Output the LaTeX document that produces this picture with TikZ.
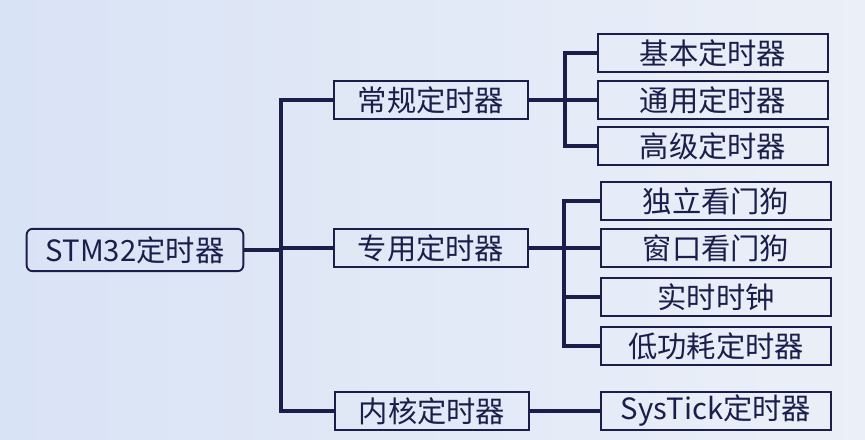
\documentclass[tikz,border=0pt]{standalone}
\usepackage{fontspec}
\setmainfont{Noto Sans CJK SC}
\usetikzlibrary{positioning}
\definecolor{ink}{HTML}{1B1E4B}
\definecolor{bgleft}{HTML}{D9E3F6}
\definecolor{bgright}{HTML}{EBEFF7}
\tikzset{
  rootbox/.style={draw=ink, line width=1.6pt, rounded corners=5pt,
                  minimum width=6.5cm, minimum height=1.27cm,
                  inner sep=2pt, font=\fontsize{25}{30}\selectfont, text=ink},
  midbox/.style={draw=ink, line width=1.6pt,
                 minimum width=5.8cm, minimum height=1.12cm,
                 inner sep=2pt, font=\fontsize{25}{30}\selectfont, text=ink},
  leafbox/.style={draw=ink, line width=1.6pt,
                  minimum width=6.9cm, minimum height=1.12cm,
                  inner sep=2pt, font=\fontsize{25}{30}\selectfont, text=ink},
  treeline/.style={draw=ink, line width=2.9pt, line join=miter}
}
\begin{document}
\begin{tikzpicture}[x=0.03cm,y=-0.03cm]
  % background
  \shade[left color=bgleft, right color=bgright] (0,0) rectangle (865,439);
  \useasboundingbox (0,0) rectangle (865,439);

  \node[rootbox] (stm) at (135,250) {STM32定时器};

  \node[midbox] (regular) at (431,100) {常规定时器};
  \node[midbox] (special) at (431,248) {专用定时器};
  \node[midbox] (core) at (432,411) {内核定时器};

  \node[leafbox] (basic) at (713,53) {基本定时器};
  \node[leafbox] (general) at (713,100) {通用定时器};
  \node[leafbox] (advanced) at (713,146) {高级定时器};

  \node[leafbox] (iwdg) at (716,201) {独立看门狗};
  \node[leafbox] (wwdg) at (716,248) {窗口看门狗};
  \node[leafbox] (rtc) at (716,297) {实时时钟};
  \node[leafbox] (lptim) at (716,346) {低功耗定时器};

  \node[leafbox] (systick) at (716,411) {SysTick定时器};

  % trunk
  \coordinate (trunk) at (281,250);
  \draw[treeline] (stm.east) -- (trunk);
  \draw[treeline] (regular.west) -| (trunk);
  \draw[treeline] (core.west) -| (trunk);
  \draw[treeline] (special.west) -- (special.west -| trunk);

  % branches
  \coordinate (regfork) at (565,100);
  \draw[treeline] (regular.east) -- (regfork);
  \foreach \n in {basic,general,advanced}
    \draw[treeline] (\n.west) -| (regfork);

  \coordinate (spcfork) at (564,248);
  \draw[treeline] (special.east) -- (spcfork);
  \foreach \n in {iwdg,wwdg,rtc,lptim}
    \draw[treeline] (\n.west) -| (spcfork);

  \draw[treeline] (core.east) -- (systick.west);
\end{tikzpicture}
\end{document}
